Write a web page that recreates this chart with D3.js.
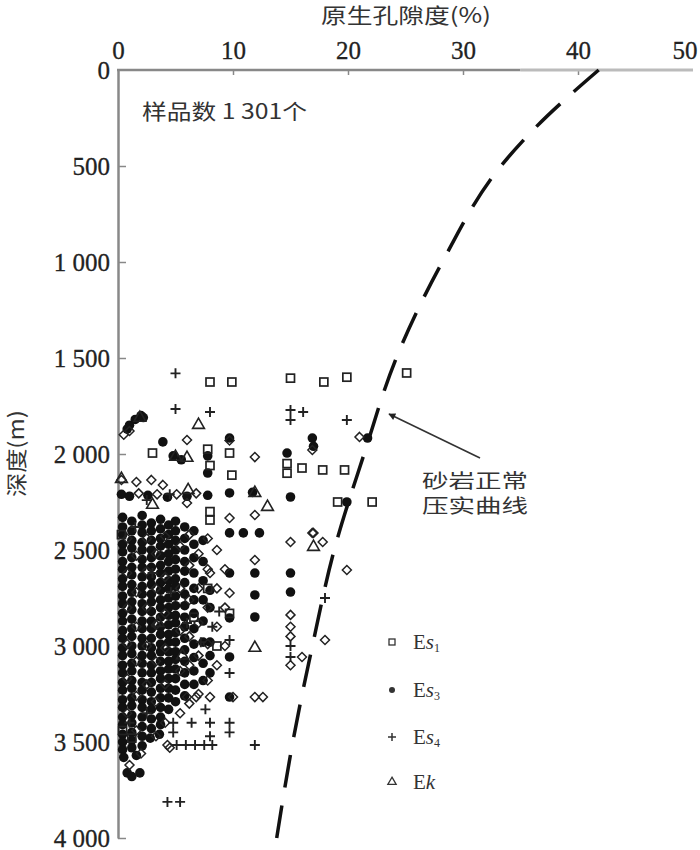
<!DOCTYPE html>
<html>
<head>
<meta charset="utf-8">
<script src="https://cdn.jsdelivr.net/npm/d3@7"></script>
<style>
  body { margin: 0; background: #fff; }
  svg { display: block; }
  .tick text { font-family: "Liberation Serif", serif; font-size: 25px; fill: #222; stroke: #222; stroke-width: 0.3; }
  .cjk { font-family: "Noto Sans CJK SC", sans-serif; fill: #333; }
</style>
</head>
<body>
<script>
// axis ticks
const porosityTicks = [0, 10, 20, 30, 40, 50];
const depthTicks = [0, 500, 1000, 1500, 2000, 2500, 3000, 3500, 4000];

// normal compaction curve of sandstone
const curveDepth = [0, 300, 500, 1000, 1500, 2000, 2500, 3000, 3500, 4000];
const curvePorosity = [41.8, 36.3, 33.3, 28.2, 24.2, 21.4, 18.8, 16.9, 15.2, 13.8];

// Es3 dense block, columns of [porosity, depths]
const es3Columns = [
  [0.4, [2330, 2380, 2420, 2470, 2510, 2560, 2600, 2650, 2690, 2740, 2780, 2830, 2870, 2920, 2960, 3010, 3050, 3100, 3140, 3190, 3230, 3280, 3320, 3370, 3410, 3460, 3500, 3540]],
  [1.2, [2350, 2400, 2450, 2490, 2540, 2590, 2630, 2680, 2720, 2770, 2810, 2860, 2910, 2950, 3000, 3040, 3090, 3130, 3180, 3220, 3270, 3310, 3360, 3400, 3450, 3490, 3530]],
  [2.1, [2320, 2370, 2410, 2460, 2500, 2550, 2590, 2640, 2690, 2730, 2780, 2820, 2870, 2910, 2960, 3000, 3050, 3090, 3140, 3190, 3230, 3280, 3320, 3370, 3420, 3470, 3520]],
  [2.9, [2360, 2400, 2450, 2500, 2540, 2590, 2640, 2680, 2730, 2770, 2820, 2870, 2910, 2960, 3010, 3050, 3100, 3140, 3190, 3240, 3290, 3330, 3380, 3430]],
  [3.7, [2340, 2390, 2440, 2480, 2530, 2580, 2620, 2670, 2710, 2760, 2800, 2850, 2900, 2940, 2990, 3030, 3080, 3130, 3170, 3220, 3270, 3320, 3370, 3410]],
  [4.4, [2370, 2420, 2470, 2520, 2560, 2610, 2660, 2700, 2750, 2800, 2840, 2890, 2940, 2980, 3030, 3080, 3120, 3170, 3220, 3270, 3330]],
  [5.0, [2350, 2400, 2450, 2500, 2550, 2600, 2650, 2690, 2740, 2790, 2840, 2880, 2930, 2980, 3030, 3070, 3120, 3170, 3230, 3290]],
  [5.8, [2380, 2440, 2500, 2560, 2610, 2670, 2730, 2790, 2850, 2900, 2960, 3020, 3080, 3140, 3200, 3260]],
  [6.6, [2400, 2470, 2540, 2620, 2700, 2760, 2830, 2910, 2990, 3060, 3130, 3200]],
  [7.4, [2450, 2560, 2660, 2760, 2870, 2980, 3090, 3180]]
];

// Es3 scattered samples [porosity, depth]
const es3Points = [
  [1, 1850], [1.5, 1820], [2, 1800], [2.2, 1810], [0.8, 1870], [3.9, 1937], [4.8, 2010], [5.5, 2030],
  [7.8, 2010], [7.8, 2099], [9.7, 1917], [9.7, 2203], [11.7, 2200], [14.7, 1995], [15, 2224], [16.9, 1917],
  [17, 1960], [21.7, 1917], [19.9, 2250], [12.3, 2411], [10.9, 2411], [9.7, 2411], [15, 2620], [15, 2719],
  [11.9, 2620], [11.9, 2849], [11.9, 2734], [9.7, 2620], [9.7, 2854], [9.7, 3057], [9.7, 3266], [8, 2710],
  [8, 2800], [8, 2980], [8, 3050], [8, 3140], [0.8, 3661], [1.9, 3661], [1.2, 3680],
  [0.3, 2210], [1, 2220], [2.6, 2215], [4.3, 2225], [6, 2220], [7.8, 2215],
  [0.5, 3580], [1.6, 3570], [2.8, 3480], [3.6, 3460]
];

// open diamonds [porosity, depth]
const diamondPoints = [
  [0.8, 2440], [0.8, 2620], [0.8, 2800], [0.8, 2990], [0.8, 3170], [0.8, 3350], [1.6, 2530], [1.6, 2720],
  [1.6, 2900], [1.6, 3080], [1.6, 3260], [1.6, 3440], [2.5, 2440], [2.5, 2610], [2.5, 2800], [2.5, 3000],
  [2.5, 3200], [3.3, 2520], [3.3, 2700], [3.3, 2890], [3.3, 3080], [3.3, 3290], [3.3, 3470], [4.1, 2430],
  [4.1, 2640], [4.1, 2830], [4.1, 3010], [4.1, 3200], [4.1, 3400], [5.4, 2480], [5.4, 2700], [5.4, 2920],
  [5.4, 3130], [5.4, 3350], [6.2, 2420], [6.2, 2580], [6.2, 2760], [6.2, 2950], [6.2, 3100], [6.2, 3300],
  [7.0, 2520], [7.0, 2700], [7.0, 2880], [7.0, 3050], [7.0, 3250], [7.8, 2440], [7.8, 2600], [7.8, 2800],
  [7.8, 2990], [7.8, 3180], [8.6, 2500], [8.6, 2700], [8.6, 2900], [8.6, 3100], [9.3, 2600], [9.3, 2800],
  [9.3, 3000], [0.3, 2135], [1.6, 2146], [2.9, 2135], [3.9, 2161], [1, 1880], [6, 1927], [11.9, 2016],
  [6, 2255], [9.7, 2333], [11.9, 2318], [15, 2458], [17, 2411], [17.8, 2458], [11.9, 2552], [19.9, 2604],
  [16.9, 2411], [21, 1911], [16.9, 1979], [9.7, 1930], [0.5, 1900], [15, 2838], [15, 2900], [15, 2950],
  [15, 3100], [16, 3057], [18, 2969], [11.9, 3266], [12.6, 3266], [4.3, 3516], [8, 3266], [6, 3266],
  [6.8, 3266], [10, 3266], [8, 2620], [9.7, 2724], [4.5, 3530], [2, 3560], [1, 3620],
  [1.8, 2205], [3.4, 2210], [5.1, 2210], [6.8, 2205]
];

// Es1 squares
const es1Points = [
  [8, 1625], [9.9, 1625], [15, 1605], [17.9, 1625], [19.9, 1600], [25.1, 1578], [3, 1995], [7.8, 1975],
  [9.7, 1995], [9.9, 2110], [14.7, 2050], [14.7, 2100], [16, 2073], [17.8, 2083], [19.7, 2083], [19.1, 2250],
  [22.1, 2250], [8, 2300], [8, 2344], [8, 2060], [0.3, 2420], [0.4, 3440], [1.2, 3480], [7.8, 2700],
  [9.7, 2830], [8.6, 3000], [6.6, 2850]
];

// Es4 pluses
const es4Points = [
  [5, 1580], [5, 1766], [8, 1781], [15, 1771], [16.1, 1781], [15, 1823], [19.9, 1823], [1.5, 2380],
  [3, 2620], [4.6, 2720], [6, 2880], [7.2, 2980], [8.2, 2900], [9.7, 2969], [9.7, 3141], [8.8, 2820],
  [7.6, 3330], [6.4, 3400], [4.8, 3400], [4.8, 3450], [8, 3400], [8, 3470], [9.7, 3400], [9.7, 3450],
  [5.1, 3516], [5.9, 3516], [6.7, 3516], [7.5, 3516], [8.2, 3516], [11.9, 3516], [15, 3000], [15, 3057],
  [18, 2750], [4.3, 3812], [5.4, 3812], [4.5, 2210], [2.5, 2240], [2.5, 3350], [1, 3400]
];

// Ek triangles
const ekPoints = [
  [1.9, 1812], [7, 1849], [5, 2015], [6, 2020], [3, 2265], [6.1, 2188], [11.9, 2203], [13, 2276],
  [17, 2484], [11.9, 3010], [0.3, 2130], [3.5, 2880], [5.6, 3050]
];

const legendNames = [["s", "1"], ["s", "3"], ["s", "4"], ["k", ""]];

const svg = d3.select("body").append("svg")
  .attr("width", 700)
  .attr("height", 850);

const x = d3.scaleLinear().domain([0, 50]).range([118, 693]);
const y = d3.scaleLinear().domain([0, 4000]).range([70, 838]);

const fmtDepth = d => d >= 1000 ? Math.floor(d / 1000) + " " + String(d % 1000).padStart(3, "0") : String(d);

// axes
const xAxis = svg.append("g")
  .attr("transform", `translate(0,${y(0)})`)
  .call(d3.axisTop(x).tickValues(porosityTicks).tickSize(-5).tickSizeOuter(0).tickPadding(11));
xAxis.select(".domain").remove();
xAxis.selectAll(".tick line").attr("stroke", "#888").attr("stroke-width", 1.5);
xAxis.selectAll(".tick").filter(d => d === 0 || d === 50).select("line").remove();
// last label sits left of the axis end
xAxis.selectAll(".tick").filter(d => d === 50).select("text")
  .attr("text-anchor", "end").attr("x", 4);

const yAxis = svg.append("g")
  .attr("transform", `translate(${x(0)},0)`)
  .call(d3.axisLeft(y).tickValues(depthTicks).tickSize(-8).tickSizeOuter(0).tickPadding(8).tickFormat(fmtDepth));
yAxis.select(".domain").attr("stroke", "#888").attr("stroke-width", 2.5);
yAxis.selectAll(".tick line").attr("stroke", "#888").attr("stroke-width", 1.5);
yAxis.selectAll(".tick").filter(d => d === 0).select("line").remove();

svg.append("line")
  .attr("x1", x(0) - 1).attr("x2", x(35)).attr("y1", y(0)).attr("y2", y(0))
  .attr("stroke", "#888").attr("stroke-width", 2.5);
svg.append("line")
  .attr("x1", x(35)).attr("x2", x(50)).attr("y1", y(0)).attr("y2", y(0))
  .attr("stroke", "#bbb").attr("stroke-width", 3);

// titles
svg.append("text").attr("class", "cjk")
  .attr("x", 321).attr("y", 23)
  .attr("font-size", 21)
  .attr("textLength", 170).attr("lengthAdjust", "spacingAndGlyphs")
  .text("原生孔隙度(%)");

svg.append("text").attr("class", "cjk")
  .attr("transform", "translate(24,497) rotate(-90)")
  .attr("font-size", 21)
  .attr("textLength", 87).attr("lengthAdjust", "spacingAndGlyphs")
  .text("深度(m)");

svg.append("text").attr("class", "cjk")
  .attr("x", 142).attr("y", 119)
  .attr("font-size", 21)
  .attr("textLength", 165).attr("lengthAdjust", "spacingAndGlyphs")
  .text("样品数 1 301个");

// compaction curve
const line = d3.line()
  .x((d, i) => x(curvePorosity[i]))
  .y(d => y(d))
  .curve(d3.curveMonotoneY);

const curve = svg.append("path")
  .attr("d", line(curveDepth))
  .attr("fill", "none")
  .attr("stroke", "#111")
  .attr("stroke-width", 3.5);

// fit the dash pattern so both ends of the curve finish on a dash
const dash = 33;
const len = curve.node().getTotalLength();
const n = Math.round((len - dash) / 50);
curve.attr("stroke-dasharray", `${dash},${(len - dash) / n - dash}`);

// markers
const g = svg.append("g");
const plusPath = "M-5,0H5M0,-5V5";
const diamondPath = "M0,-4.5L4.5,0L0,4.5L-4.5,0Z";

const es3All = es3Columns.flatMap(c => c[1].map(d => [c[0], d])).concat(es3Points);

g.selectAll("circle.es3")
  .data(es3All)
  .enter()
  .append("circle")
  .attr("class", "es3")
  .attr("cx", d => x(d[0]))
  .attr("cy", d => y(d[1]))
  .attr("r", 4.8)
  .attr("fill", "#111");

g.selectAll("path.diamond")
  .data(diamondPoints)
  .enter()
  .append("path")
  .attr("class", "diamond")
  .attr("transform", d => `translate(${x(d[0])},${y(d[1])})`)
  .attr("d", diamondPath)
  .attr("fill", "none")
  .attr("stroke", "#222")
  .attr("stroke-width", 1.5);

g.selectAll("rect.es1")
  .data(es1Points)
  .enter()
  .append("rect")
  .attr("class", "es1")
  .attr("x", d => x(d[0]) - 4)
  .attr("y", d => y(d[1]) - 4)
  .attr("width", 8)
  .attr("height", 8)
  .attr("fill", "none")
  .attr("stroke", "#222")
  .attr("stroke-width", 1.7);

g.selectAll("path.es4")
  .data(es4Points)
  .enter()
  .append("path")
  .attr("class", "es4")
  .attr("transform", d => `translate(${x(d[0])},${y(d[1])})`)
  .attr("d", plusPath)
  .attr("stroke", "#222")
  .attr("stroke-width", 1.9);

const tri = d3.symbol().type(d3.symbolTriangle).size(60);
g.selectAll("path.ek")
  .data(ekPoints)
  .enter()
  .append("path")
  .attr("class", "ek")
  .attr("transform", d => `translate(${x(d[0])},${y(d[1])})`)
  .attr("d", tri)
  .attr("fill", "none")
  .attr("stroke", "#222")
  .attr("stroke-width", 1.6);

// annotation arrow
svg.append("defs").append("marker")
  .attr("id", "arrow")
  .attr("viewBox", "0 0 10 10")
  .attr("refX", 9).attr("refY", 5)
  .attr("markerWidth", 9).attr("markerHeight", 7)
  .attr("markerUnits", "userSpaceOnUse")
  .attr("orient", "auto")
  .append("path")
  .attr("d", "M0,0L10,5L0,10Z")
  .attr("fill", "#222");

svg.append("line")
  .attr("x1", 480).attr("y1", 458)
  .attr("x2", 389).attr("y2", 414)
  .attr("stroke", "#333")
  .attr("stroke-width", 1.6)
  .attr("marker-end", "url(#arrow)");

svg.append("text").attr("class", "cjk")
  .attr("x", 422).attr("y", 488)
  .attr("font-size", 19)
  .attr("textLength", 106).attr("lengthAdjust", "spacingAndGlyphs")
  .text("砂岩正常");
svg.append("text").attr("class", "cjk")
  .attr("x", 422).attr("y", 513)
  .attr("font-size", 19)
  .attr("textLength", 106).attr("lengthAdjust", "spacingAndGlyphs")
  .text("压实曲线");

// legend
const legendRows = [642, 690, 737, 782];
const lg = svg.append("g");

lg.append("rect").attr("x", 389).attr("y", legendRows[0] - 3).attr("width", 6).attr("height", 6)
  .attr("fill", "none").attr("stroke", "#333").attr("stroke-width", 1.3);
lg.append("circle").attr("cx", 392).attr("cy", legendRows[1]).attr("r", 3).attr("fill", "#333");
lg.append("path").attr("transform", `translate(392,${legendRows[2]})`).attr("d", "M-4,0H4M0,-4V4")
  .attr("stroke", "#333").attr("stroke-width", 1.5);
lg.append("path").attr("transform", `translate(392,${legendRows[3]})`)
  .attr("d", d3.symbol().type(d3.symbolTriangle).size(30))
  .attr("fill", "none").attr("stroke", "#333").attr("stroke-width", 1.3);

legendNames.forEach((n, i) => {
  const t = lg.append("text")
    .attr("x", 413).attr("y", legendRows[i] + 7)
    .attr("font-family", "Liberation Serif, serif")
    .attr("font-size", 21)
    .attr("fill", "#333");
  t.append("tspan").text("E");
  t.append("tspan").attr("font-style", "italic").text(n[0]);
  if (n[1]) t.append("tspan").attr("font-size", 12).attr("dy", 3).text(n[1]);
});
</script>
</body>
</html>
